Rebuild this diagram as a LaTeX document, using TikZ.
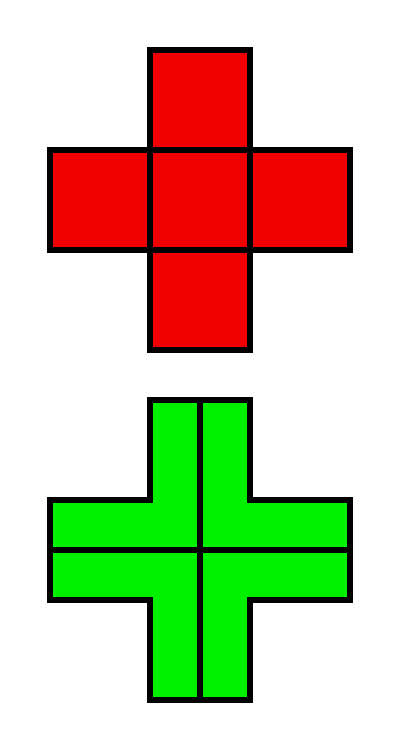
\documentclass[tikz,border=0pt]{standalone}
\definecolor{crossred}{RGB}{240,0,0}
\definecolor{crossgreen}{RGB}{0,240,0}
\tikzset{
    cell/.style={draw=black, fill=crossred, line width=0.06cm},
    outline/.style={draw=black, line width=0.06cm},
}
\begin{document}
\begin{tikzpicture}[scale=1]
        % ==== DEFINITIONS ====
        \def\side{1} % side of one square
        \useasboundingbox (0,0) rectangle (4,7.5);

        % ==== RED CROSS ====
        \foreach \x/\y in {2/6.5, 1/5.5, 2/5.5, 3/5.5, 2/4.5}
            \draw[cell] (\x-0.5*\side,\y-0.5*\side) rectangle ++(\side,\side);

        % ==== GREEN CROSS ====
        \fill[crossgreen] (1.5,3.5) -- (2.5,3.5) -- (2.5,2.5) -- (3.5,2.5) -- (3.5,1.5)
            -- (2.5,1.5) -- (2.5,0.5) -- (1.5,0.5) -- (1.5,1.5) -- (0.5,1.5)
            -- (0.5,2.5) -- (1.5,2.5) -- cycle;

        % ==== INNER LINES ====
        \draw[outline] (2,3.5) -- (2,0.5);
        \draw[outline] (0.5,2) -- (3.5,2);

        % ==== OUTLINE ====
        \draw[outline] (1.5,3.5) -- (2.5,3.5) -- (2.5,2.5) -- (3.5,2.5) -- (3.5,1.5)
            -- (2.5,1.5) -- (2.5,0.5) -- (1.5,0.5) -- (1.5,1.5) -- (0.5,1.5)
            -- (0.5,2.5) -- (1.5,2.5) -- cycle;
    \end{tikzpicture}
\end{document}
